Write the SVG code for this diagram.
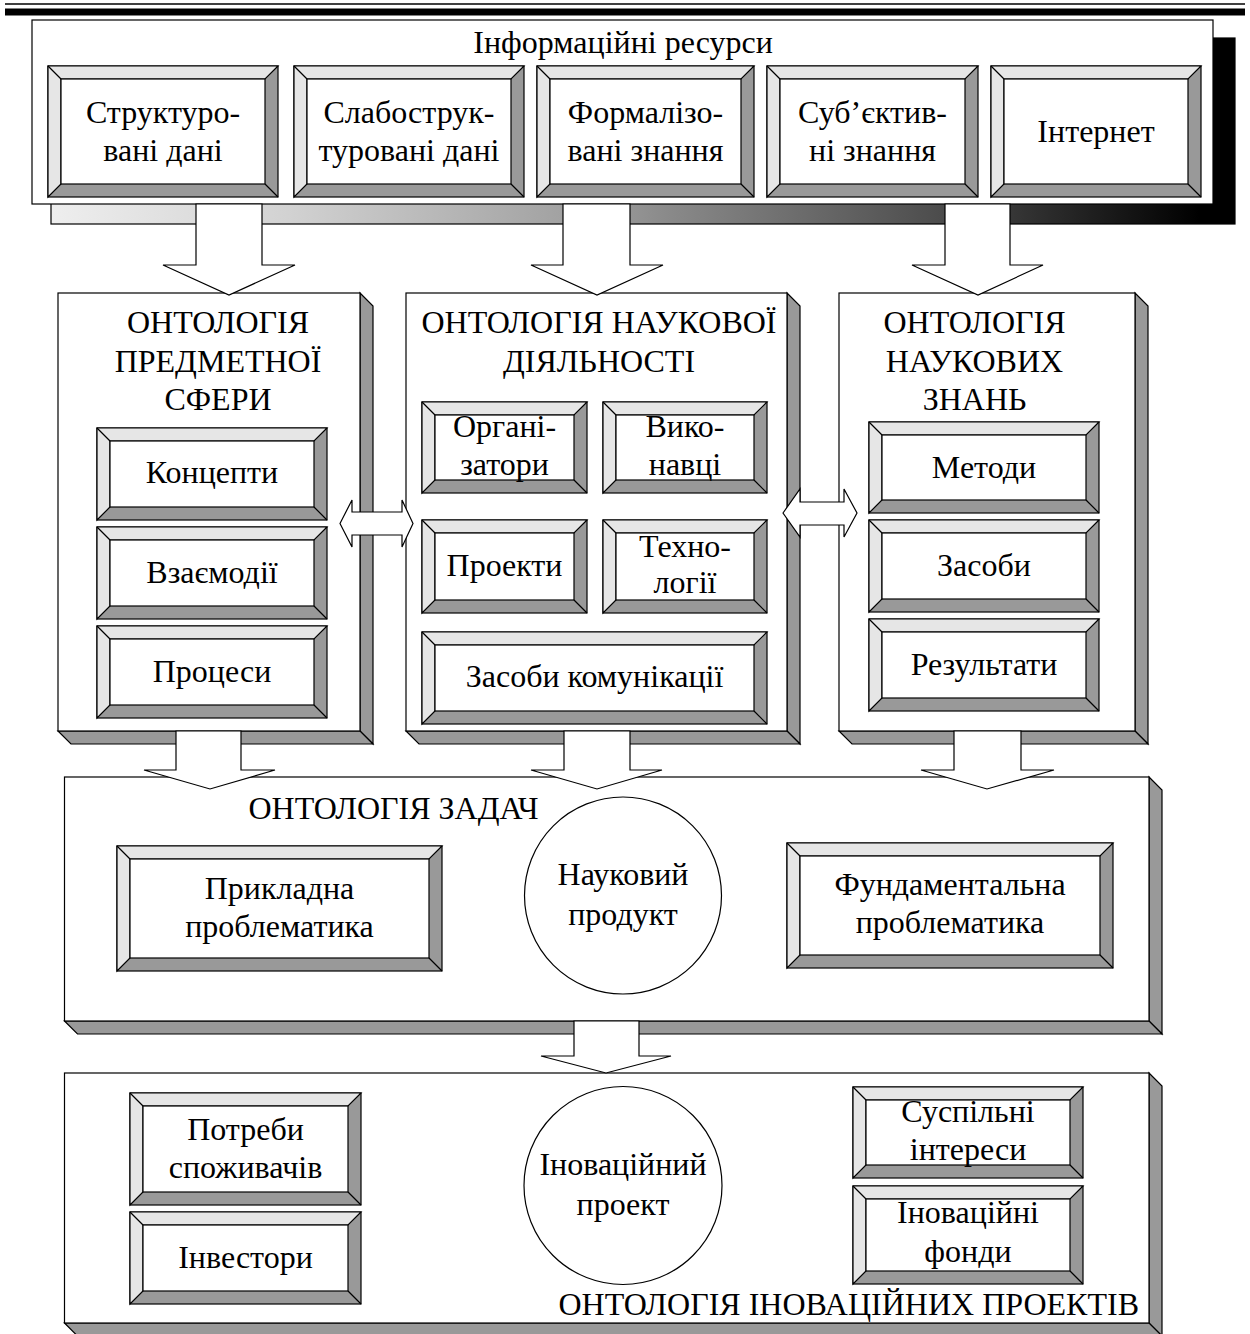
<svg xmlns="http://www.w3.org/2000/svg" width="1250" height="1334" viewBox="0 0 1250 1334">
<defs>
<linearGradient id="shadowGrad" gradientUnits="userSpaceOnUse" x1="51" y1="0" x2="1235" y2="0">
<stop offset="0" stop-color="#eeeeee"/>
<stop offset="0.2" stop-color="#d2d2d2"/>
<stop offset="0.47" stop-color="#9a9a9a"/>
<stop offset="0.52" stop-color="#8a8a8a"/>
<stop offset="0.76" stop-color="#4a4a4a"/>
<stop offset="0.82" stop-color="#333333"/>
<stop offset="0.97" stop-color="#000000"/>
</linearGradient>
</defs>
<style>
.s{stroke:#000;stroke-width:1.2;stroke-linejoin:miter}
.w{fill:#fff}
.dk{fill:#999999}
.lt{fill:#e6e6e6}
.ln{fill:none;stroke:#000;stroke-width:1.2}
.t{font-family:"Liberation Serif","Times New Roman",serif;font-size:32px;fill:#000;text-anchor:middle}
.te{font-family:"Liberation Serif","Times New Roman",serif;font-size:32px;fill:#000;text-anchor:end}
</style>
<rect width="1250" height="1334" fill="#fff"/>
<g id="header">
<line x1="5" y1="4" x2="1245" y2="4" stroke="#000" stroke-width="1.5"/>
<rect x="5" y="8.5" width="1240" height="7" fill="#000"/>
</g>

<g id="info-resources">
<rect x="51" y="38" width="1184" height="186" fill="url(#shadowGrad)" class="s"/>
<rect x="32" y="20" width="1181" height="184" class="s w"/>
<text class="t" x="623" y="53">Інформаційні ресурси</text>
</g>

<g id="box-structured">
<rect x="48" y="66" width="230" height="131" class="s dk"/>
<polygon points="48,66 278,66 265,79 61,79 61,184 48,197" class="s lt"/>
<rect x="61" y="79" width="204" height="105" class="s w"/>
<line x1="48" y1="66" x2="61" y2="79" class="ln"/><line x1="278" y1="197" x2="265" y2="184" class="ln"/>
<text class="t" x="163" y="123">Структуро-</text><text class="t" x="163" y="161">вані дані</text>
</g>
<g id="box-weakly">
<rect x="294" y="66" width="230" height="131" class="s dk"/>
<polygon points="294,66 524,66 511,79 307,79 307,184 294,197" class="s lt"/>
<rect x="307" y="79" width="204" height="105" class="s w"/>
<line x1="294" y1="66" x2="307" y2="79" class="ln"/><line x1="524" y1="197" x2="511" y2="184" class="ln"/>
<text class="t" x="409" y="123">Слабострук-</text><text class="t" x="409" y="161">туровані дані</text>
</g>
<g id="box-formal">
<rect x="537" y="66" width="217" height="131" class="s dk"/>
<polygon points="537,66 754,66 741,79 550,79 550,184 537,197" class="s lt"/>
<rect x="550" y="79" width="191" height="105" class="s w"/>
<line x1="537" y1="66" x2="550" y2="79" class="ln"/><line x1="754" y1="197" x2="741" y2="184" class="ln"/>
<text class="t" x="645.5" y="123">Формалізо-</text><text class="t" x="645.5" y="161">вані знання</text>
</g>
<g id="box-subjective">
<rect x="767" y="66" width="211" height="131" class="s dk"/>
<polygon points="767,66 978,66 965,79 780,79 780,184 767,197" class="s lt"/>
<rect x="780" y="79" width="185" height="105" class="s w"/>
<line x1="767" y1="66" x2="780" y2="79" class="ln"/><line x1="978" y1="197" x2="965" y2="184" class="ln"/>
<text class="t" x="872.5" y="123">Суб’єктив-</text><text class="t" x="872.5" y="161">ні знання</text>
</g>
<g id="box-internet">
<rect x="991" y="66" width="210" height="131" class="s dk"/>
<polygon points="991,66 1201,66 1188,79 1004,79 1004,184 991,197" class="s lt"/>
<rect x="1004" y="79" width="184" height="105" class="s w"/>
<line x1="991" y1="66" x2="1004" y2="79" class="ln"/><line x1="1201" y1="197" x2="1188" y2="184" class="ln"/>
<text class="t" x="1096" y="142">Інтернет</text>
</g>

<g id="panel-domain">
<polygon points="360,293 373,306 373,744 360,731" class="s dk"/>
<polygon points="58,731 71,744 373,744 360,731" class="s dk"/>
<rect x="58" y="293" width="302" height="438" class="s w"/>
<text class="t" x="218" y="333">ОНТОЛОГІЯ</text>
<text class="t" x="218" y="372">ПРЕДМЕТНОЇ</text>
<text class="t" x="218" y="410">СФЕРИ</text>
</g>
<g id="box-concepts">
<rect x="97" y="428" width="230" height="92" class="s dk"/>
<polygon points="97,428 327,428 314,441 110,441 110,507 97,520" class="s lt"/>
<rect x="110" y="441" width="204" height="66" class="s w"/>
<line x1="97" y1="428" x2="110" y2="441" class="ln"/><line x1="327" y1="520" x2="314" y2="507" class="ln"/>
<text class="t" x="212" y="483">Концепти</text>
</g>
<g id="box-interactions">
<rect x="97" y="527" width="230" height="92" class="s dk"/>
<polygon points="97,527 327,527 314,540 110,540 110,606 97,619" class="s lt"/>
<rect x="110" y="540" width="204" height="66" class="s w"/>
<line x1="97" y1="527" x2="110" y2="540" class="ln"/><line x1="327" y1="619" x2="314" y2="606" class="ln"/>
<text class="t" x="212" y="583">Взаємодії</text>
</g>
<g id="box-processes">
<rect x="97" y="626" width="230" height="92" class="s dk"/>
<polygon points="97,626 327,626 314,639 110,639 110,705 97,718" class="s lt"/>
<rect x="110" y="639" width="204" height="66" class="s w"/>
<line x1="97" y1="626" x2="110" y2="639" class="ln"/><line x1="327" y1="718" x2="314" y2="705" class="ln"/>
<text class="t" x="212" y="682">Процеси</text>
</g>

<g id="panel-activity">
<polygon points="787,293 800,306 800,744 787,731" class="s dk"/>
<polygon points="406,731 419,744 800,744 787,731" class="s dk"/>
<rect x="406" y="293" width="381" height="438" class="s w"/>
<text class="t" x="599" y="333">ОНТОЛОГІЯ НАУКОВОЇ</text>
<text class="t" x="599" y="372">ДІЯЛЬНОСТІ</text>
</g>
<g id="box-organizers">
<rect x="422" y="402" width="165" height="91" class="s dk"/>
<polygon points="422,402 587,402 574,415 435,415 435,480 422,493" class="s lt"/>
<rect x="435" y="415" width="139" height="65" class="s w"/>
<line x1="422" y1="402" x2="435" y2="415" class="ln"/><line x1="587" y1="493" x2="574" y2="480" class="ln"/>
<text class="t" x="504.5" y="437">Органі-</text><text class="t" x="504.5" y="475">затори</text>
</g>
<g id="box-performers">
<rect x="603" y="402" width="164" height="91" class="s dk"/>
<polygon points="603,402 767,402 754,415 616,415 616,480 603,493" class="s lt"/>
<rect x="616" y="415" width="138" height="65" class="s w"/>
<line x1="603" y1="402" x2="616" y2="415" class="ln"/><line x1="767" y1="493" x2="754" y2="480" class="ln"/>
<text class="t" x="685" y="437">Вико-</text><text class="t" x="685" y="475">навці</text>
</g>
<g id="box-projects">
<rect x="422" y="520" width="165" height="93" class="s dk"/>
<polygon points="422,520 587,520 574,533 435,533 435,600 422,613" class="s lt"/>
<rect x="435" y="533" width="139" height="67" class="s w"/>
<line x1="422" y1="520" x2="435" y2="533" class="ln"/><line x1="587" y1="613" x2="574" y2="600" class="ln"/>
<text class="t" x="504.5" y="576">Проекти</text>
</g>
<g id="box-technologies">
<rect x="603" y="520" width="164" height="93" class="s dk"/>
<polygon points="603,520 767,520 754,533 616,533 616,600 603,613" class="s lt"/>
<rect x="616" y="533" width="138" height="67" class="s w"/>
<line x1="603" y1="520" x2="616" y2="533" class="ln"/><line x1="767" y1="613" x2="754" y2="600" class="ln"/>
<text class="t" x="685" y="557">Техно-</text><text class="t" x="685" y="593">логії</text>
</g>
<g id="box-communication">
<rect x="422" y="632" width="345" height="92" class="s dk"/>
<polygon points="422,632 767,632 754,645 435,645 435,711 422,724" class="s lt"/>
<rect x="435" y="645" width="319" height="66" class="s w"/>
<line x1="422" y1="632" x2="435" y2="645" class="ln"/><line x1="767" y1="724" x2="754" y2="711" class="ln"/>
<text class="t" x="594.5" y="687">Засоби комунікації</text>
</g>

<g id="panel-knowledge">
<polygon points="1135,293 1148,306 1148,744 1135,731" class="s dk"/>
<polygon points="839,731 852,744 1148,744 1135,731" class="s dk"/>
<rect x="839" y="293" width="296" height="438" class="s w"/>
<text class="t" x="974.5" y="333">ОНТОЛОГІЯ</text>
<text class="t" x="974.5" y="372">НАУКОВИХ</text>
<text class="t" x="974.5" y="410">ЗНАНЬ</text>
</g>
<g id="box-methods">
<rect x="869" y="422" width="230" height="91" class="s dk"/>
<polygon points="869,422 1099,422 1086,435 882,435 882,500 869,513" class="s lt"/>
<rect x="882" y="435" width="204" height="65" class="s w"/>
<line x1="869" y1="422" x2="882" y2="435" class="ln"/><line x1="1099" y1="513" x2="1086" y2="500" class="ln"/>
<text class="t" x="984" y="478">Методи</text>
</g>
<g id="box-tools">
<rect x="869" y="520" width="230" height="92" class="s dk"/>
<polygon points="869,520 1099,520 1086,533 882,533 882,599 869,612" class="s lt"/>
<rect x="882" y="533" width="204" height="66" class="s w"/>
<line x1="869" y1="520" x2="882" y2="533" class="ln"/><line x1="1099" y1="612" x2="1086" y2="599" class="ln"/>
<text class="t" x="984" y="576">Засоби</text>
</g>
<g id="box-results">
<rect x="869" y="619" width="230" height="92" class="s dk"/>
<polygon points="869,619 1099,619 1086,632 882,632 882,698 869,711" class="s lt"/>
<rect x="882" y="632" width="204" height="66" class="s w"/>
<line x1="869" y1="619" x2="882" y2="632" class="ln"/><line x1="1099" y1="711" x2="1086" y2="698" class="ln"/>
<text class="t" x="984" y="675">Результати</text>
</g>

<g id="panel-tasks">
<polygon points="1149,777 1162,790 1162,1034 1149,1021" class="s dk"/>
<polygon points="64.5,1021 77.5,1034 1162,1034 1149,1021" class="s dk"/>
<rect x="64.5" y="777" width="1084.5" height="244" class="s w"/>
<text class="t" x="393.5" y="819">ОНТОЛОГІЯ ЗАДАЧ</text>
</g>
<g id="box-applied">
<rect x="117" y="846" width="325" height="125" class="s dk"/>
<polygon points="117,846 442,846 429,859 130,859 130,958 117,971" class="s lt"/>
<rect x="130" y="859" width="299" height="99" class="s w"/>
<line x1="117" y1="846" x2="130" y2="859" class="ln"/><line x1="442" y1="971" x2="429" y2="958" class="ln"/>
<text class="t" x="279.5" y="899">Прикладна</text><text class="t" x="279.5" y="937">проблематика</text>
</g>
<g id="circle-product">
<circle cx="623" cy="895.5" r="98.5" class="s w"/>
<text class="t" x="623" y="885">Науковий</text><text class="t" x="623" y="925">продукт</text>
</g>
<g id="box-fundamental">
<rect x="787" y="843" width="326" height="125" class="s dk"/>
<polygon points="787,843 1113,843 1100,856 800,856 800,955 787,968" class="s lt"/>
<rect x="800" y="856" width="300" height="99" class="s w"/>
<line x1="787" y1="843" x2="800" y2="856" class="ln"/><line x1="1113" y1="968" x2="1100" y2="955" class="ln"/>
<text class="t" x="950" y="895">Фундаментальна</text><text class="t" x="950" y="933">проблематика</text>
</g>

<g id="panel-innovation">
<polygon points="1149,1073 1162,1086 1162,1336 1149,1323" class="s dk"/>
<polygon points="64.5,1323 77.5,1336 1162,1336 1149,1323" class="s dk"/>
<rect x="64.5" y="1073" width="1084.5" height="250" class="s w"/>
<text class="te" x="1139" y="1315">ОНТОЛОГІЯ ІНОВАЦІЙНИХ ПРОЕКТІВ</text>
</g>
<g id="box-needs">
<rect x="130" y="1093" width="231" height="112" class="s dk"/>
<polygon points="130,1093 361,1093 348,1106 143,1106 143,1192 130,1205" class="s lt"/>
<rect x="143" y="1106" width="205" height="86" class="s w"/>
<line x1="130" y1="1093" x2="143" y2="1106" class="ln"/><line x1="361" y1="1205" x2="348" y2="1192" class="ln"/>
<text class="t" x="245.5" y="1140">Потреби</text><text class="t" x="245.5" y="1178">споживачів</text>
</g>
<g id="box-investors">
<rect x="130" y="1212" width="231" height="92" class="s dk"/>
<polygon points="130,1212 361,1212 348,1225 143,1225 143,1291 130,1304" class="s lt"/>
<rect x="143" y="1225" width="205" height="66" class="s w"/>
<line x1="130" y1="1212" x2="143" y2="1225" class="ln"/><line x1="361" y1="1304" x2="348" y2="1291" class="ln"/>
<text class="t" x="245.5" y="1268">Інвестори</text>
</g>
<g id="circle-project">
<circle cx="623" cy="1185.5" r="99" class="s w"/>
<text class="t" x="623" y="1175">Іноваційний</text><text class="t" x="623" y="1215">проект</text>
</g>
<g id="box-public">
<rect x="853" y="1087" width="230" height="91" class="s dk"/>
<polygon points="853,1087 1083,1087 1070,1100 866,1100 866,1165 853,1178" class="s lt"/>
<rect x="866" y="1100" width="204" height="65" class="s w"/>
<line x1="853" y1="1087" x2="866" y2="1100" class="ln"/><line x1="1083" y1="1178" x2="1070" y2="1165" class="ln"/>
<text class="t" x="968" y="1122">Суспільні</text><text class="t" x="968" y="1160">інтереси</text>
</g>
<g id="box-funds">
<rect x="853" y="1186" width="230" height="98" class="s dk"/>
<polygon points="853,1186 1083,1186 1070,1199 866,1199 866,1271 853,1284" class="s lt"/>
<rect x="866" y="1199" width="204" height="72" class="s w"/>
<line x1="853" y1="1186" x2="866" y2="1199" class="ln"/><line x1="1083" y1="1284" x2="1070" y2="1271" class="ln"/>
<text class="t" x="968" y="1223">Іноваційні</text><text class="t" x="968" y="1262">фонди</text>
</g>

<g id="connectors">
<polygon points="196,204 196,265 163,265 229,295 295,265 262,265 262,204" class="s w"/>
<polygon points="563,204 563,265 531,265 597,295 663,265 630,265 630,204" class="s w"/>
<polygon points="945,204 945,265 912,265 978,295 1043,265 1010,265 1010,204" class="s w"/>
<polygon points="176,731 176,770 144,770 210,789 275,770 241,770 241,731" class="s w"/>
<polygon points="564,731 564,770 531,770 597,789 662,770 630,770 630,731" class="s w"/>
<polygon points="954,731 954,770 921,770 987,789 1054,770 1021,770 1021,731" class="s w"/>
<polygon points="574,1021 574,1056 541,1056 606,1073 671,1056 639,1056 639,1021" class="s w"/>
<polygon points="340,523.5 352,500 352,512 402,512 402,500 413,523.5 402,547 402,535 352,535 352,547" class="s w"/>
<polygon points="783,513 800,489 800,502 844,502 844,489 857,513 844,537 844,525 800,525 800,537" class="s w"/>
</g>
</svg>
